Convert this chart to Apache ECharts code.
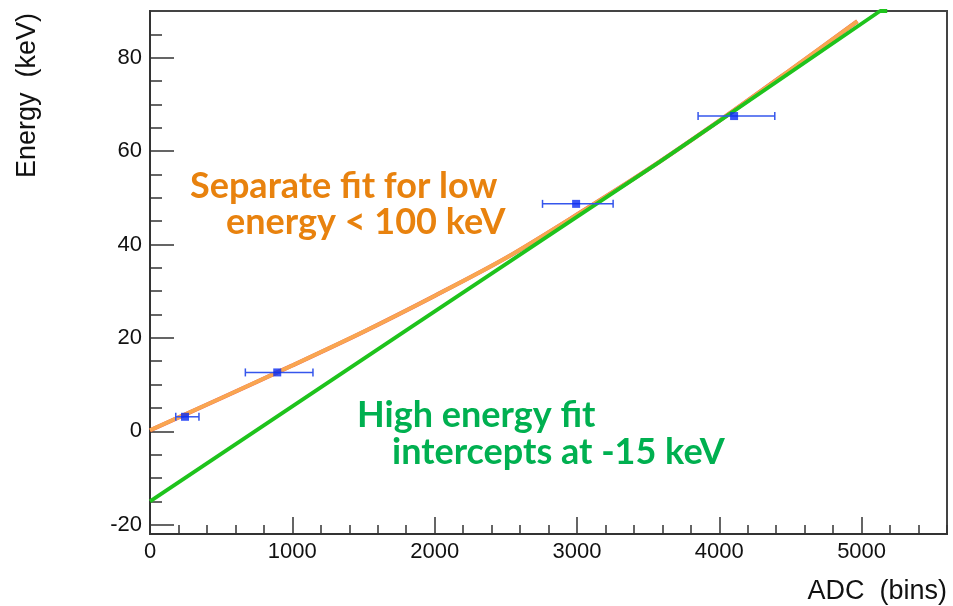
<!DOCTYPE html>
<html>
<head>
<meta charset="utf-8">
<script src="https://cdn.jsdelivr.net/npm/echarts@6/dist/echarts.min.js"></script>
<style>
  html, body { margin: 0; padding: 0; background: #ffffff; }
  #chart { width: 953px; height: 606px; }
</style>
</head>
<body>
<div id="chart"></div>
<script>
// Calibration points: ADC position, energy and horizontal uncertainty range
const pointAdc = [246, 894, 2994, 4104];
const pointEnergy = [3.1, 12.6, 48.7, 67.5];
const pointAdcLow = [181, 670, 2758, 3851];
const pointAdcHigh = [344, 1145, 3254, 4390];

// Separate fit for the low-energy region (< 100 keV)
const lowFitAdc = [0, 500, 1000, 1500, 2000, 2500, 3000, 3500, 4000, 4500, 4970];
const lowFitEnergy = [0.2, 7.1, 14.1, 21.3, 29.0, 37.1, 46.4, 56.1, 66.5, 77.4, 87.8];

// High-energy linear fit
const highFitAdc = [0, 1829, 3581, 5130, 5180];
const highFitEnergy = [-15, 22.2, 57.7, 90, 90];

// Axis ticks
const xMajorTicks = [0, 1000, 2000, 3000, 4000, 5000];
const xMinorTicks = [200, 400, 600, 800, 1200, 1400, 1600, 1800, 2200, 2400, 2600, 2800,
                     3200, 3400, 3600, 3800, 4200, 4400, 4600, 4800, 5200, 5400, 5600];
const yMajorTicks = [-20, 0, 20, 40, 60, 80];
const yMinorTicks = [-15, -10, -5, 5, 10, 15, 25, 30, 35, 45, 50, 55, 65, 70, 75, 85];

const X_MIN = 0, X_MAX = 5600, Y_MIN = -22, Y_MAX = 90;
const axisColor = '#333333';
const labelFont = { fontFamily: 'Liberation Sans', fontSize: 22, color: '#111111' };

const zip = (xs, ys) => xs.map((x, i) => [x, ys[i]]);
const errData = pointAdc.map((x, i) => [x, pointEnergy[i], pointAdcLow[i], pointAdcHigh[i]]);

function textEl(text, x, y, font, fill, align, extra) {
  return Object.assign({
    type: 'text', x: x, y: y, silent: true,
    style: {
      text: text, font: font, fill: fill,
      align: align, textAlign: align,
      verticalAlign: 'middle', textVerticalAlign: 'middle'
    }
  }, extra || {});
}

const chart = echarts.init(document.getElementById('chart'), null, { renderer: 'canvas' });

chart.setOption({
  animation: false,
  backgroundColor: '#ffffff',
  grid: {
    left: 150, right: 6, top: 11, bottom: 72,
    show: true, borderColor: '#444444', borderWidth: 2, backgroundColor: 'transparent'
  },
  xAxis: [
    {
      type: 'value', min: X_MIN, max: X_MAX, position: 'bottom',
      axisLine: { show: true, onZero: false, lineStyle: { color: axisColor, width: 2 } },
      axisTick: { show: true, inside: true, length: 17, customValues: xMajorTicks,
                  lineStyle: { color: axisColor, width: 1.5 } },
      axisLabel: Object.assign({ customValues: xMajorTicks, margin: 7,
                                 formatter: (v) => String(v) }, labelFont),
      splitLine: { show: false }
    },
    {
      type: 'value', min: X_MIN, max: X_MAX, position: 'bottom',
      axisLine: { show: false, onZero: false },
      axisTick: { show: true, inside: true, length: 9, customValues: xMinorTicks,
                  lineStyle: { color: axisColor, width: 1.5 } },
      axisLabel: { show: false },
      splitLine: { show: false }
    }
  ],
  yAxis: [
    {
      type: 'value', min: Y_MIN, max: Y_MAX, position: 'left',
      axisLine: { show: true, onZero: false, lineStyle: { color: axisColor, width: 2 } },
      axisTick: { show: true, inside: true, length: 24, customValues: yMajorTicks,
                  lineStyle: { color: axisColor, width: 1.5 } },
      axisLabel: Object.assign({ customValues: yMajorTicks, margin: 8,
                                 formatter: (v) => String(v) }, labelFont),
      splitLine: { show: false }
    },
    {
      type: 'value', min: Y_MIN, max: Y_MAX, position: 'left',
      axisLine: { show: false, onZero: false },
      axisTick: { show: true, inside: true, length: 12, customValues: yMinorTicks,
                  lineStyle: { color: axisColor, width: 1.5 } },
      axisLabel: { show: false },
      splitLine: { show: false }
    }
  ],
  series: [
    {
      name: 'low fit edge', type: 'line', xAxisIndex: 0, yAxisIndex: 0,
      data: zip(lowFitAdc, lowFitEnergy), smooth: 0.3, symbol: 'none',
      lineStyle: { color: '#E8321E', width: 4.2, opacity: 0.75 }, z: 2
    },
    {
      name: 'low fit', type: 'line', xAxisIndex: 0, yAxisIndex: 0,
      data: zip(lowFitAdc, lowFitEnergy), smooth: 0.3, symbol: 'none',
      lineStyle: { color: '#F9A650', width: 3.8 }, z: 3
    },
    {
      name: 'high fit', type: 'line', xAxisIndex: 0, yAxisIndex: 0,
      data: zip(highFitAdc, highFitEnergy), symbol: 'none', clip: true,
      lineStyle: { color: '#1EC31C', width: 3.8 }, z: 4
    },
    {
      name: 'uncertainty', type: 'custom', xAxisIndex: 0, yAxisIndex: 0,
      data: errData, encode: { x: [0, 2, 3], y: 1 }, z: 5,
      renderItem: function (params, api) {
        const y = api.value(1);
        const lo = api.coord([api.value(2), y]);
        const hi = api.coord([api.value(3), y]);
        const cap = 4;
        const st = { stroke: '#3556EC', lineWidth: 1.5 };
        return {
          type: 'group',
          children: [
            { type: 'line', shape: { x1: lo[0], y1: lo[1], x2: hi[0], y2: hi[1] }, style: st },
            { type: 'line', shape: { x1: lo[0], y1: lo[1] - cap, x2: lo[0], y2: lo[1] + cap }, style: st },
            { type: 'line', shape: { x1: hi[0], y1: hi[1] - cap, x2: hi[0], y2: hi[1] + cap }, style: st }
          ]
        };
      }
    },
    {
      name: 'points', type: 'scatter', xAxisIndex: 0, yAxisIndex: 0,
      data: zip(pointAdc, pointEnergy), symbol: 'rect', symbolSize: 8,
      itemStyle: { color: '#0A2CF2' }, z: 6
    }
  ],
  graphic: [
    textEl('Separate fit for low', 190, 186, 'bold 36px Lato', '#E8820E', 'left'),
    textEl('energy < 100 keV', 226, 222, 'bold 36px Lato', '#E8820E', 'left'),
    textEl('High energy fit', 357, 415, 'bold 36px Lato', '#00B050', 'left'),
    textEl('intercepts at -15 keV', 392, 452, 'bold 36px Lato', '#00B050', 'left'),
    textEl('ADC  (bins)', 947, 592, '27px "Liberation Sans"', '#111111', 'right'),
    textEl('Energy  (keV)', 28, 13, '27px "Liberation Sans"', '#111111', 'right', { rotation: Math.PI / 2 })
  ]
});
</script>
</body>
</html>
